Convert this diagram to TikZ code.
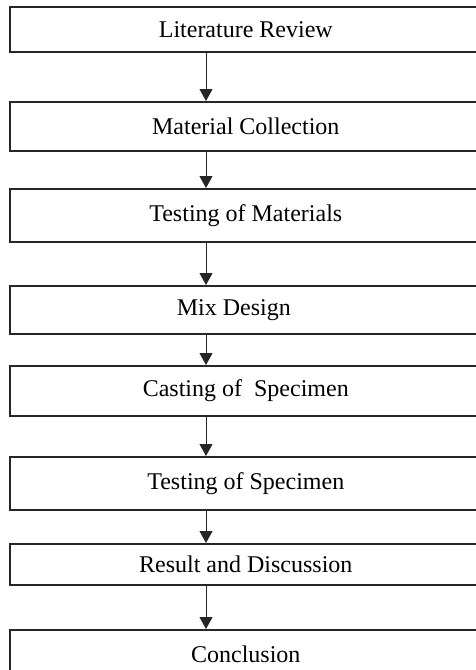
\documentclass[tikz,border=0pt]{standalone}
\usepackage{fontspec}
\setmainfont{Liberation Serif}
\usepackage{tikz}
\usetikzlibrary{positioning, calc}
\usetikzlibrary{arrows.meta}

\begin{document}
\begin{tikzpicture}[x=1pt,y=1pt,draw=black!85]
	\def \leftx{9}
	\def \boxwd{472pt}
	\tikzstyle{s-node}=[draw,rectangle,line width=1.6pt,anchor=north west,minimum width=\boxwd,inner sep=0pt,text centered,font=\fontsize{24}{28}\selectfont]
	\tikzstyle{flow}=[line width=1pt,-{Triangle[width=13pt,length=12pt]}]
	\useasboundingbox (0,0) rectangle (476,-670);
	\clip (0,0) rectangle (476,-670);
	\coordinate (ax) at (206,0);
	
	% steps
	\node[s-node,minimum height=45pt] 	(s1)	at (\leftx,-6)		{Literature Review};
	\node[s-node,minimum height=49pt] 	(s2)	at (\leftx,-101)	{Material Collection};
	\node[s-node,minimum height=53pt] 	(s3)	at (\leftx,-188)	{Testing of Materials};
	\node[s-node,minimum height=48pt] 	(s4)	at (\leftx,-285)	{\hspace*{-24pt}Mix Design};
	\node[s-node,minimum height=50pt] 	(s5)	at (\leftx,-365)	{Casting of \ Specimen};
	\node[s-node,minimum height=53pt] 	(s6)	at (\leftx,-456)	{Testing of Specimen};
	\node[s-node,minimum height=41pt] 	(s7)	at (\leftx,-543)	{Result and Discussion};
	\node[s-node,minimum height=48pt] 	(s8)	at (\leftx,-629)	{Conclusion};
	
	\path[flow]
		(s1.south -| ax)	edge	(s2.north -| ax)
		(s2.south -| ax)	edge	(s3.north -| ax)
		(s3.south -| ax)	edge	(s4.north -| ax)
		(s4.south -| ax)	edge	(s5.north -| ax)
		(s5.south -| ax)	edge	(s6.north -| ax)
		(s6.south -| ax)	edge	(s7.north -| ax)
		(s7.south -| ax)	edge	(s8.north -| ax);
\end{tikzpicture}
\end{document}
